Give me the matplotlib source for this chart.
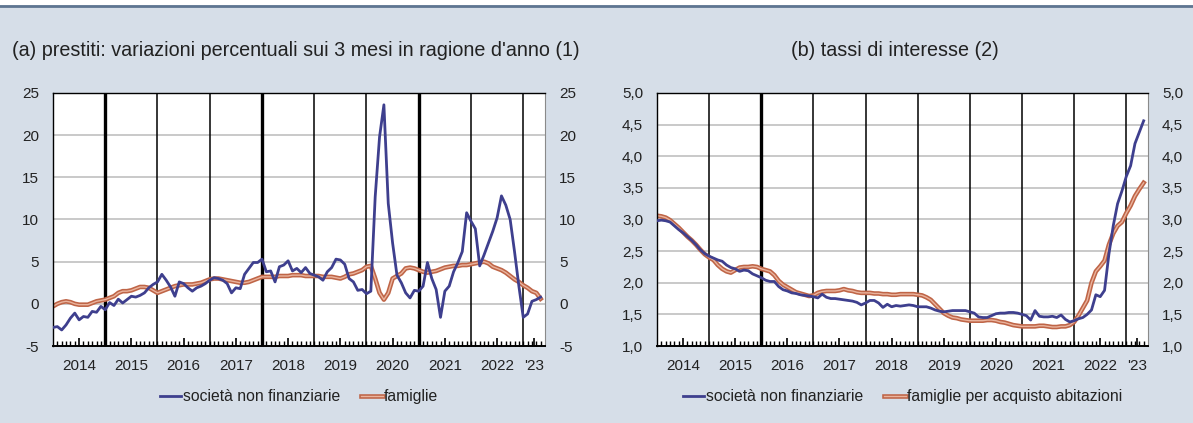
import matplotlib
matplotlib.use('Agg')
import matplotlib.pyplot as plt
import matplotlib.patheffects as pe
from matplotlib.lines import Line2D
from matplotlib.patches import Rectangle
from matplotlib.ticker import FuncFormatter
import numpy as np

plt.rcParams['font.family'] = ['Liberation Sans', 'DejaVu Sans']
plt.rcParams['axes.unicode_minus'] = False

# mesi: gennaio 2014 - maggio 2023
n_months = 113
year_labels = ['2014', '2015', '2016', '2017', '2018', '2019', '2020', '2021', '2022', "'23"]
year_pos = [6, 18, 30, 42, 54, 66, 78, 90, 102, 110.5]

title_a = "(a) prestiti: variazioni percentuali sui 3 mesi in ragione d'anno (1)"
title_b = "(b) tassi di interesse (2)"

# (a) prestiti
snf_a = [-2.8, -2.7, -3.1, -2.5, -1.7, -1.1, -1.9, -1.5, -1.6, -0.9, -1.0, -0.3,
         -0.7, 0.15, -0.2, 0.55, 0.1, 0.5, 0.9, 0.8, 1.0, 1.3, 1.9, 2.3,
         2.6, 3.5, 2.8, 2.0, 0.9, 2.6, 2.4, 1.9, 1.5, 1.9, 2.1, 2.4,
         2.8, 3.1, 3.0, 2.8, 2.4, 1.3, 1.9, 1.8, 3.5, 4.2, 4.9, 4.9,
         5.3, 3.8, 3.9, 2.6, 4.4, 4.6, 5.1, 3.9, 4.2, 3.7, 4.3, 3.6,
         3.4, 3.2, 2.8, 3.8, 4.3, 5.3, 5.2, 4.7, 3.0, 2.6, 1.6, 1.7,
         1.2, 1.5, 12.7, 19.8, 23.6, 11.9, 7.2, 3.4, 2.5, 1.3, 0.7, 1.6,
         1.5, 2.1, 4.9, 3.0, 1.7, -1.6, 1.5, 2.1, 3.8, 4.9, 6.2, 10.8,
         9.8, 8.9, 4.5, 5.8, 7.2, 8.6, 10.2, 12.8, 11.7, 10.0, 6.2, 2.1,
         -1.6, -1.2, 0.3, 0.5, 0.8]
fam_a = [-0.3, 0.0, 0.2, 0.3, 0.2, 0.0, -0.1, -0.1, -0.1, 0.1, 0.3, 0.4,
         0.5, 0.7, 0.9, 1.3, 1.5, 1.5, 1.6, 1.8, 2.0, 2.0, 1.9, 1.6,
         1.3, 1.5, 1.7, 1.9, 2.1, 2.2, 2.3, 2.3, 2.3, 2.4, 2.5, 2.7,
         2.9, 3.0, 3.0, 2.9, 2.8, 2.7, 2.6, 2.5, 2.5, 2.6, 2.8, 3.0,
         3.2, 3.2, 3.2, 3.2, 3.3, 3.3, 3.3, 3.4, 3.4, 3.4, 3.3, 3.3,
         3.3, 3.3, 3.2, 3.2, 3.2, 3.1, 3.0, 3.2, 3.5, 3.6, 3.8, 4.0,
         4.4, 4.5, 3.0, 1.3, 0.5, 1.3, 3.0, 3.3, 3.6, 4.2, 4.3, 4.2,
         4.0, 3.8, 3.7, 3.8, 3.9, 4.1, 4.3, 4.4, 4.5, 4.5, 4.6, 4.6,
         4.7, 4.8, 4.9, 5.0, 4.8, 4.4, 4.2, 4.0, 3.7, 3.3, 2.9, 2.6,
         2.2, 1.9, 1.5, 1.3, 0.6]

# (b) tassi di interesse
snf_b = [2.98, 2.99, 2.98, 2.96, 2.90, 2.84, 2.79, 2.73, 2.67, 2.60, 2.52, 2.46,
         2.42, 2.39, 2.36, 2.34, 2.28, 2.24, 2.22, 2.18, 2.20, 2.19, 2.14, 2.11,
         2.08, 2.04, 2.02, 2.02, 1.94, 1.89, 1.87, 1.84, 1.83, 1.81, 1.80, 1.79,
         1.78, 1.76, 1.82, 1.77, 1.75, 1.75, 1.74, 1.73, 1.72, 1.71, 1.69, 1.65,
         1.68, 1.72, 1.72, 1.68, 1.61, 1.66, 1.62, 1.64, 1.63, 1.64, 1.65, 1.64,
         1.62, 1.62, 1.62, 1.60, 1.57, 1.55, 1.54, 1.55, 1.56, 1.56, 1.56, 1.56,
         1.54, 1.52, 1.46, 1.45, 1.45, 1.48, 1.51, 1.52, 1.52, 1.53, 1.53, 1.52,
         1.50, 1.48, 1.41, 1.56, 1.47, 1.46, 1.46, 1.47, 1.45, 1.49, 1.42, 1.38,
         1.40, 1.43, 1.45, 1.50, 1.57, 1.81, 1.78, 1.88, 2.45, 2.90, 3.25, 3.45,
         3.68, 3.85, 4.20, 4.38, 4.56]
fam_b = [3.06, 3.05, 3.03, 2.99, 2.93, 2.87, 2.80, 2.73, 2.67, 2.60, 2.52, 2.45,
         2.40, 2.36, 2.28, 2.22, 2.18, 2.16, 2.20, 2.24, 2.25, 2.25, 2.26, 2.25,
         2.22, 2.20, 2.18, 2.12, 2.03, 1.97, 1.93, 1.89, 1.85, 1.83, 1.81, 1.79,
         1.80, 1.84, 1.86, 1.87, 1.87, 1.87, 1.88, 1.90, 1.88, 1.87, 1.85, 1.84,
         1.84, 1.84, 1.83, 1.83, 1.82, 1.82, 1.81, 1.81, 1.82, 1.82, 1.82, 1.82,
         1.81, 1.80, 1.77, 1.73, 1.66, 1.59, 1.52, 1.48, 1.45, 1.44, 1.42, 1.41,
         1.40, 1.40, 1.40, 1.40, 1.41, 1.41, 1.40, 1.38, 1.37, 1.35, 1.33, 1.32,
         1.31, 1.31, 1.31, 1.31, 1.32, 1.32, 1.31, 1.30, 1.30, 1.31, 1.31, 1.33,
         1.38, 1.48, 1.60, 1.72, 2.00, 2.18, 2.26, 2.35, 2.60, 2.78, 2.90, 2.96,
         3.10, 3.22, 3.37, 3.48, 3.58]

BG = '#d6dee8'
BLUE = '#3e3f8e'
BROWN = '#bf6547'
LIGHT = '#eab49e'
TXT = '#222222'

W, H = 1193, 423
fig = plt.figure(figsize=(W / 100, H / 100), dpi=100, facecolor=BG)

# striscia superiore
fig.add_artist(Rectangle((0, 1 - 5 / H), 1, 5 / H, transform=fig.transFigure,
                         facecolor='white', edgecolor='none'))
fig.add_artist(Line2D([0, 1], [1 - 6 / H] * 2, transform=fig.transFigure,
                      color='#5e7591', lw=2))

x = np.arange(n_months)
fam_effect = [pe.Stroke(linewidth=3.3, foreground=BROWN), pe.Normal()]


def draw_panel(ax, snf, fam, ylim, yticks, fmt, thick_years, fam_label):
    ax.set_facecolor('white')
    ax.set_xlim(0, n_months)
    ax.set_ylim(*ylim)
    ax.set_yticks(yticks)
    ax.yaxis.set_major_formatter(FuncFormatter(fmt))
    for yv in yticks[1:-1]:
        ax.axhline(yv, color='#c9c9c9', lw=1.4, zorder=1)
    for k in range(1, 10):
        lw = 2.4 if k in thick_years else 1.1
        ax.axvline(12 * k, color='black', lw=lw, zorder=1.5)
    ax.plot(x, snf, color=BLUE, lw=2, zorder=3, label='società non finanziarie')
    ax.plot(x, fam, color=LIGHT, lw=1.0, zorder=2.5, path_effects=fam_effect,
            label=fam_label)

    ax.set_xticks(year_pos)
    ax.set_xticklabels(year_labels)
    ax.set_xticks(np.arange(1, n_months), minor=True)
    ax.tick_params(axis='x', which='major', direction='in', length=6, width=1.2,
                   pad=9, labelsize=11, labelcolor=TXT)
    ax.tick_params(axis='x', which='minor', direction='in', length=3.5, width=1.0)
    ax.tick_params(axis='y', which='both', length=0, pad=10, labelsize=11,
                   labelcolor=TXT, labelleft=True, labelright=True)
    for s in ['top', 'left', 'bottom']:
        ax.spines[s].set_color('black')
        ax.spines[s].set_linewidth(1.0)
    ax.spines['bottom'].set_linewidth(1.4)
    ax.spines['right'].set_color('#8a8a8a')

    ax.legend(loc='center', bbox_to_anchor=(0.5, -0.2), ncol=2, frameon=False,
              fontsize=11.3, handlelength=1.4, handletextpad=0.1,
              columnspacing=1.3, labelcolor=TXT)


ax_a = fig.add_axes([53 / W, 1 - 346 / H, 492 / W, 253 / H])
draw_panel(ax_a, snf_a, fam_a, (-5, 25), [-5, 0, 5, 10, 15, 20, 25],
           lambda v, p: '%d' % v, [1, 4, 7], 'famiglie')

ax_b = fig.add_axes([657 / W, 1 - 346 / H, 491 / W, 253 / H])
draw_panel(ax_b, snf_b, fam_b, (1.0, 5.0), [1.0, 1.5, 2.0, 2.5, 3.0, 3.5, 4.0, 4.5, 5.0],
           lambda v, p: ('%.1f' % v).replace('.', ','), [2],
           'famiglie per acquisto abitazioni')

fig.text(12 / W, 1 - 50 / H, title_a, ha='left', va='center', fontsize=14.2, color=TXT)
fig.text(895 / W, 1 - 50 / H, title_b, ha='center', va='center', fontsize=14.2, color=TXT)

fig.savefig('out.png', dpi=100, facecolor=BG)
